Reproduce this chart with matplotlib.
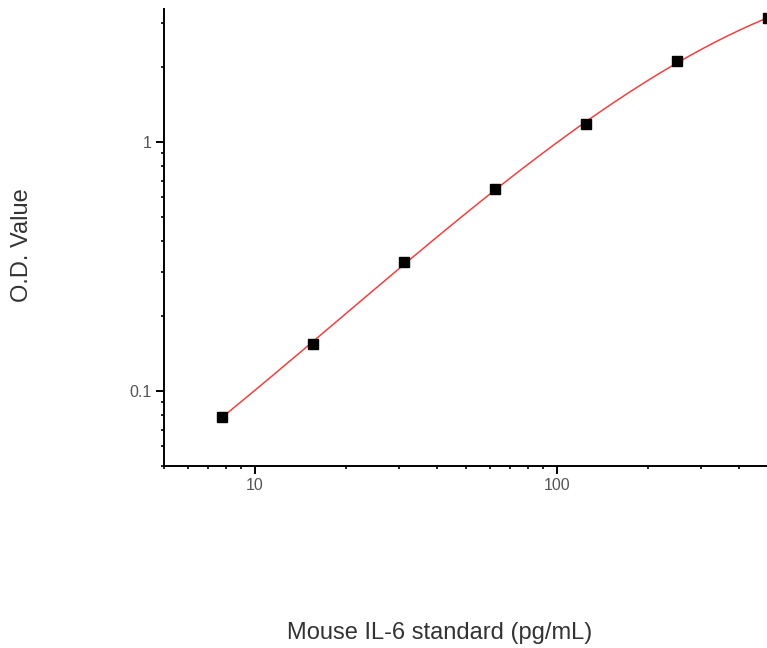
import numpy as np
import matplotlib.pyplot as plt

# standard concentrations (pg/mL) and measured O.D.
conc = [7.8, 15.6, 31.25, 62.5, 125, 250, 500]
od = [0.079, 0.155, 0.33, 0.647, 1.18, 2.11, 3.15]

plt.rcParams['font.family'] = ['Liberation Sans', 'DejaVu Sans']

fig = plt.figure(figsize=(7.67, 6.48), dpi=100)
ax = fig.add_axes([0.2138, 0.2809, 0.8188, 0.7052])

# smooth fit of the standard curve in log-log space
lx, ly = np.log10(conc), np.log10(od)
coef = np.polyfit(lx, ly, 3)
xs = np.logspace(lx[0], np.log10(600), 200)
ax.plot(xs, 10 ** np.polyval(coef, np.log10(xs)), color='#f04040', lw=1.1, zorder=2)
ax.plot(conc, od, 's', color='black', ms=7, zorder=3)

ax.set_xscale('log')
ax.set_yscale('log')
ax.set_xlim(5, 600)
ax.set_ylim(0.05, 3.42)
ax.set_xticks([10, 100])
ax.set_xticklabels(['10', '100'])
ax.set_yticks([0.1, 1])
ax.set_yticklabels(['0.1', '1'])

for side in ['top', 'right']:
    ax.spines[side].set_visible(False)
for side in ['left', 'bottom']:
    ax.spines[side].set_linewidth(1.4)

ax.tick_params(which='major', length=6, width=1.4, labelsize=11.5, colors='black',
               labelcolor='#555555', pad=3)
ax.tick_params(which='minor', length=2.5, width=1.2)

fig.text(440 / 767, 1 - 633 / 648, 'Mouse IL-6 standard (pg/mL)', ha='center', va='center',
         fontsize=17, color='#333333')
fig.text(22 / 767, 1 - 245 / 648, 'O.D. Value', ha='center', va='center', rotation=90,
         fontsize=17, color='#333333')

fig.savefig('out.png', dpi=100)
